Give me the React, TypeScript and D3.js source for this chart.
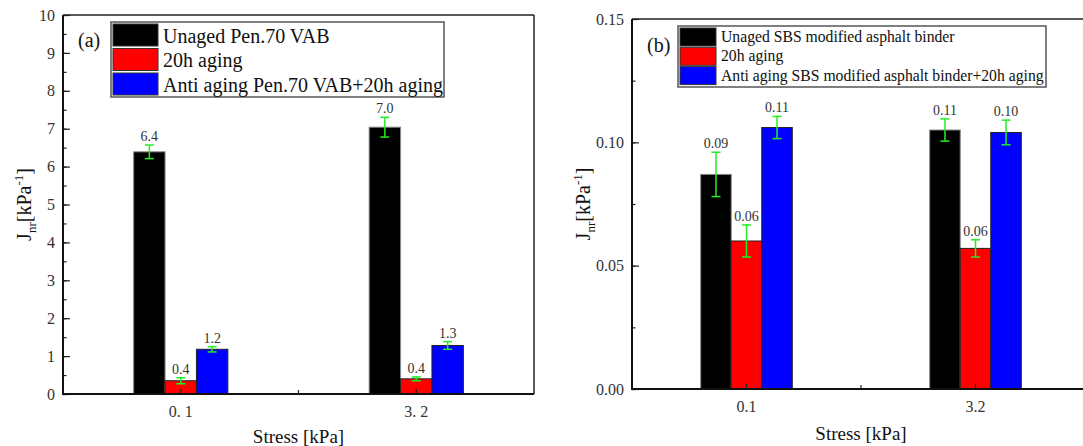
import { useEffect, useRef } from 'react';
import * as d3 from 'd3';

// Panel (a): Pen.70 VAB
const categoriesA = ['0. 1', '3. 2'];
const seriesA = ['Unaged Pen.70 VAB', '20h aging', 'Anti aging Pen.70 VAB+20h aging'];
const valuesA = [[6.39, 7.04], [0.35, 0.40], [1.18, 1.28]];
const errorsA = [[0.18, 0.26], [0.08, 0.05], [0.07, 0.1]];
const labelsA = [['6.4', '7.0'], ['0.4', '0.4'], ['1.2', '1.3']];
const yTicksA = [0, 1, 2, 3, 4, 5, 6, 7, 8, 9, 10];

// Panel (b): SBS modified binder
const categoriesB = ['0.1', '3.2'];
const seriesB = ['Unaged SBS modified asphalt binder', '20h aging', 'Anti aging SBS modified asphalt binder+20h aging'];
const valuesB = [[0.087, 0.105], [0.060, 0.057], [0.106, 0.104]];
const errorsB = [[0.009, 0.0045], [0.0065, 0.0035], [0.0045, 0.005]];
const labelsB = [['0.09', '0.11'], ['0.06', '0.06'], ['0.11', '0.10']];
const yTicksB = [0, 0.05, 0.10, 0.15];

const colors = ['#000000', '#ff0000', '#0000ff'];
const FONT = '"Liberation Serif", "Times New Roman", serif';

type Panel = {
  left: number; right: number; top: number; bottom: number;
  yMax: number; yTicks: number[]; minorStep: number; fmt: (v: number) => string;
  categories: string[]; series: string[]; values: number[][]; errors: number[][]; labels: string[][];
  tag: string; tagX: number; tagY: number;
  legend: { x: number; y: number; w: number; h: number; sw: number; row0: number; step: number; rh: number; font: number; base: number };
  yTitleX: number; xTitleY: number;
  tickFont: number; valueFont: number;
};

const panelA: Panel = {
  left: 63, right: 534, top: 15, bottom: 394,
  yMax: 10, yTicks: yTicksA, minorStep: 0.5, fmt: d3.format('d'),
  categories: categoriesA, series: seriesA, values: valuesA, errors: errorsA, labels: labelsA,
  tag: '(a)', tagX: 78, tagY: 47,
  legend: { x: 111, y: 22, w: 333, h: 75, sw: 45, row0: 24, step: 24.5, rh: 22, font: 20, base: 18.5 },
  yTitleX: 31, xTitleY: 443, tickFont: 16, valueFont: 14,
};

const panelB: Panel = {
  left: 632, right: 1090, top: 19, bottom: 389,
  yMax: 0.15, yTicks: yTicksB, minorStep: 0.025, fmt: d3.format('.2f'),
  categories: categoriesB, series: seriesB, values: valuesB, errors: errorsB, labels: labelsB,
  tag: '(b)', tagX: 647, tagY: 52,
  legend: { x: 678, y: 26, w: 368, h: 61, sw: 36, row0: 28, step: 19.3, rh: 18, font: 15.7, base: 14 },
  yTitleX: 590, xTitleY: 440, tickFont: 16, valueFont: 14,
};

function drawPanel(svg: d3.Selection<SVGSVGElement, unknown, null, undefined>, p: Panel) {
  const g = svg.append('g').style('font-family', FONT);

  const x = d3.scaleBand().domain(p.categories).range([p.left, p.right]).padding(0);
  const y = d3.scaleLinear().domain([0, p.yMax]).range([p.bottom, p.top]);
  const inner = d3.scaleBand<number>()
    .domain(p.series.map((_, i) => i))
    .range([-x.bandwidth() * 0.2, x.bandwidth() * 0.2])
    .padding(0);

  // bars
  p.series.forEach((s, si) => {
    g.append('g').selectAll('rect')
      .data(p.categories)
      .enter().append('rect')
      .attr('x', c => x(c)! + x.bandwidth() / 2 + inner(si)!)
      .attr('y', (c, ci) => y(p.values[si][ci]))
      .attr('width', inner.bandwidth())
      .attr('height', (c, ci) => p.bottom - y(p.values[si][ci]))
      .attr('fill', colors[si])
      .attr('stroke', si === 0 ? '#888' : '#222')
      .attr('stroke-width', 1);
  });

  // frame
  g.append('line').attr('x1', p.left).attr('x2', p.right).attr('y1', p.top).attr('y2', p.top)
    .attr('stroke', '#222').attr('stroke-width', 1.5);
  g.append('line').attr('x1', p.right).attr('x2', p.right).attr('y1', p.top).attr('y2', p.bottom)
    .attr('stroke', '#222').attr('stroke-width', 1.5);

  // y axis
  const minor = d3.range(0, p.yMax + 1e-9, p.minorStep);
  const yMinor = g.append('g').attr('transform', `translate(${p.left},0)`)
    .call(d3.axisLeft(y).tickValues(minor).tickSize(-3.5).tickFormat(() => ''));
  yMinor.select('.domain').remove();
  const yAxis = g.append('g').attr('transform', `translate(${p.left},0)`)
    .call(d3.axisLeft(y).tickValues(p.yTicks).tickSize(-7).tickPadding(8).tickFormat(d => p.fmt(d as number)));
  yAxis.select('.domain').remove();
  yAxis.selectAll('text').style('font-size', `${p.tickFont}px`).style('font-family', FONT).attr('fill', '#333');
  g.selectAll('.tick line').attr('stroke', '#222').attr('stroke-width', 1.2);

  // x axis
  const xAxis = g.append('g').attr('transform', `translate(0,${p.bottom})`)
    .call(d3.axisBottom(x).tickSize(-5).tickPadding(12));
  xAxis.select('.domain').remove();
  xAxis.selectAll('line').attr('stroke', '#222').attr('stroke-width', 1.2);
  xAxis.selectAll('text').style('font-size', `${p.tickFont}px`).style('font-family', FONT).attr('fill', '#333');
  g.append('line')
    .attr('x1', x(p.categories[1])!).attr('x2', x(p.categories[1])!)
    .attr('y1', p.bottom).attr('y2', p.bottom - 4)
    .attr('stroke', '#222').attr('stroke-width', 1.2);

  g.append('line').attr('x1', p.left).attr('x2', p.left).attr('y1', p.top).attr('y2', p.bottom + 1)
    .attr('stroke', '#111').attr('stroke-width', 2);
  g.append('line').attr('x1', p.left - 1).attr('x2', p.right).attr('y1', p.bottom).attr('y2', p.bottom)
    .attr('stroke', '#111').attr('stroke-width', 2);

  // error bars + value labels
  p.series.forEach((s, si) => {
    p.categories.forEach((c, ci) => {
      const cx = x(c)! + x.bandwidth() / 2 + inner(si)! + inner.bandwidth() / 2;
      const v = p.values[si][ci];
      const e = p.errors[si][ci];
      const y1 = y(v + e);
      const y2 = y(v - e);
      const eg = g.append('g').attr('stroke', '#22ee22').attr('stroke-width', 1.5);
      eg.append('line').attr('x1', cx).attr('x2', cx).attr('y1', y1).attr('y2', y2);
      eg.append('line').attr('x1', cx - 4.5).attr('x2', cx + 4.5).attr('y1', y1).attr('y2', y1);
      eg.append('line').attr('x1', cx - 4.5).attr('x2', cx + 4.5).attr('y1', y2).attr('y2', y2);
      g.append('text')
        .attr('x', cx).attr('y', y1 - 4)
        .attr('text-anchor', 'middle')
        .style('font-size', `${p.valueFont}px`)
        .attr('fill', '#333')
        .text(p.labels[si][ci]);
    });
  });

  // legend
  const L = p.legend;
  g.append('rect').attr('x', L.x).attr('y', L.y).attr('width', L.w).attr('height', L.h)
    .attr('fill', 'white').attr('stroke', '#555').attr('stroke-width', 1.5);
  p.series.forEach((s, si) => {
    const ry = L.row0 + si * L.step;
    g.append('rect').attr('x', L.x + 2).attr('y', ry).attr('width', L.sw).attr('height', L.rh)
      .attr('fill', colors[si]).attr('stroke', '#333').attr('stroke-width', 1);
    g.append('text').attr('x', L.x + L.sw + 7).attr('y', ry + L.base)
      .style('font-size', `${L.font}px`).attr('fill', '#111').text(s);
  });

  // panel tag
  g.append('text').attr('x', p.tagX).attr('y', p.tagY).style('font-size', '20px').attr('fill', '#111').text(p.tag);

  // axis titles
  const yt = g.append('text')
    .attr('transform', `translate(${p.yTitleX},${(p.top + p.bottom) / 2}) rotate(-90)`)
    .attr('text-anchor', 'middle')
    .style('font-size', '20px')
    .attr('fill', '#111');
  yt.append('tspan').text('J');
  yt.append('tspan').attr('dy', 5).style('font-size', '13px').text('nr');
  yt.append('tspan').attr('dy', -5).text('[kPa');
  yt.append('tspan').attr('dy', -8).style('font-size', '13px').text('-1');
  yt.append('tspan').attr('dy', 8).text(']');

  g.append('text')
    .attr('x', (p.left + p.right) / 2).attr('y', p.xTitleY)
    .attr('text-anchor', 'middle')
    .style('font-size', '19px')
    .attr('fill', '#111')
    .text('Stress [kPa]');
}

const App = () => {
  const svgRef = useRef<SVGSVGElement>(null);

  useEffect(() => {
    const svg = d3.select(svgRef.current!);
    svg.selectAll('*').remove();
    svg.append('rect').attr('width', 1083).attr('height', 446).attr('fill', 'white');
    drawPanel(svg, panelA);
    drawPanel(svg, panelB);
  }, []);

  return (
    <svg ref={svgRef} width={1083} height={446}
      style={{ position: 'absolute', left: 0, top: 0, display: 'block' }} />
  );
};

export default App;
